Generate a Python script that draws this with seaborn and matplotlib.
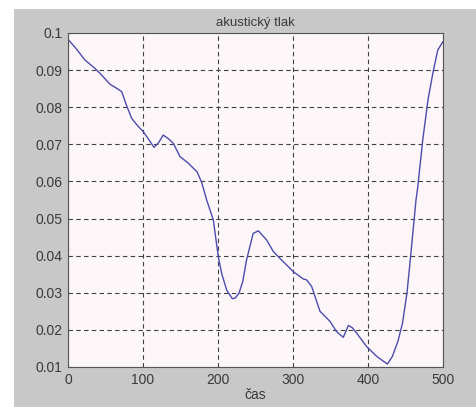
import matplotlib
matplotlib.use("Agg")
import matplotlib.pyplot as plt
import seaborn as sns
import pandas as pd
from matplotlib.patches import Rectangle

# data
cas = [0, 10, 22.7, 35.8, 46, 56, 64.9, 71.6, 78, 84.9, 92, 100.4, 108, 114.7, 121, 127,
       134, 140.4, 149.3, 160, 172, 178, 184.9, 193.8, 200.4, 204.9, 211.6, 219.1, 223,
       228, 233, 238, 246.9, 253.8, 264.9, 273.8, 284.9, 300.4, 313.8, 318, 324.9, 336,
       349.3, 358.2, 367.1, 373.8, 379, 385, 398.2, 412, 425.8, 432.4, 440, 446, 452, 457,
       464, 466.4, 473, 480, 486.4, 493, 500]
tlak = [0.0983, 0.0960, 0.0927, 0.0905, 0.0884, 0.0862, 0.0851, 0.0842, 0.0805, 0.0770,
        0.0752, 0.0734, 0.0712, 0.0692, 0.0705, 0.0725, 0.0715, 0.0703, 0.0667, 0.0650,
        0.0626, 0.0599, 0.0550, 0.0496, 0.0397, 0.0352, 0.0307, 0.0284, 0.0286, 0.0299,
        0.0330, 0.0388, 0.0460, 0.0467, 0.0442, 0.0411, 0.0388, 0.0357, 0.0337, 0.0335,
        0.0317, 0.0250, 0.0223, 0.0195, 0.0180, 0.0212, 0.0206, 0.0191, 0.0155, 0.0128,
        0.0108, 0.0128, 0.0170, 0.0218, 0.0300, 0.0402, 0.0550, 0.0586, 0.0712, 0.0820,
        0.0891, 0.0954, 0.0977]
x_ticks = [0, 100, 200, 300, 400, 500]
y_ticks = [0.01, 0.02, 0.03, 0.04, 0.05, 0.06, 0.07, 0.08, 0.09, 0.1]
y_tick_labels = ["0.01", "0.02", "0.03", "0.04", "0.05", "0.06", "0.07", "0.08", "0.09", "0.1"]

df = pd.DataFrame({"cas": cas, "tlak": tlak})

sns.set_style("white")
plt.rcParams["font.family"] = ["Liberation Sans", "DejaVu Sans"]

W, H = 477, 407
fig = plt.figure(figsize=(W / 100, H / 100), dpi=100, facecolor="white")
fig.patches.append(Rectangle((14 / W, 0), 1 - 14 / W, 1 - 9 / H, transform=fig.transFigure,
                             facecolor="#c8c8c8", edgecolor="none", zorder=-10))
ax = fig.add_axes([68 / W, 1 - 367 / H, (443 - 68) / W, (367 - 33) / H])
ax.set_facecolor("#fcf6f8")

sns.lineplot(data=df, x="cas", y="tlak", ax=ax, color="#4c4cac", linewidth=1.0)

ax.set_xlim(0, 500)
ax.set_ylim(0.01, 0.1)
ax.set_xticks(x_ticks)
ax.set_yticks(y_ticks)
ax.set_yticklabels(y_tick_labels)
ax.grid(True, color="#404040", linestyle=(0, (4, 3)), linewidth=0.8)
for s in ax.spines.values():
    s.set_color("#555555")
    s.set_linewidth(0.8)
ax.tick_params(axis="both", labelsize=10, colors="#3a3a3a", length=0, pad=4)
ax.set_xlabel("čas", fontsize=10, color="#3a3a3a", labelpad=1)
ax.set_ylabel("")
ax.set_title("akustický tlak", fontsize=9.5, color="#3a3a3a", pad=5)

fig.savefig("out.png", dpi=100, facecolor=fig.get_facecolor())
